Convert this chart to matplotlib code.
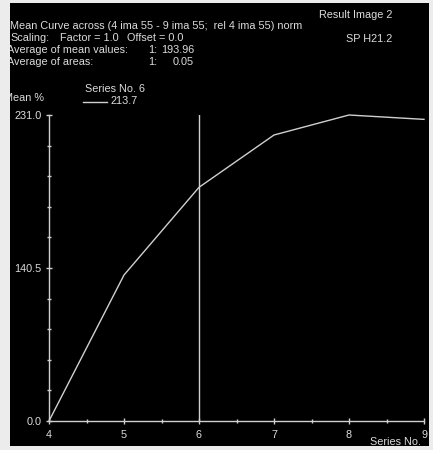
import matplotlib
matplotlib.use("Agg")
import matplotlib.pyplot as plt
from matplotlib.patches import Rectangle
from matplotlib.lines import Line2D

# ---- data ----
series_no = [4, 5, 6, 7, 8, 9]
mean_pct = [0.0, 110.2, 176.4, 215.9, 231.0, 227.7]
cursor_series = 6
y_ticks = [0.0, 115.5, 231.0]
y_tick_labels = ["0.0", "140.5", "231.0"]
x_ticks = [4, 5, 6, 7, 8, 9]
x_minor = [4.5, 5.5, 6.5, 7.5, 8.5]
y_minor = [23.1, 46.2, 69.3, 92.4, 138.6, 161.7, 184.8, 207.9]

W, H = 433, 450
FG = "#dcdcdc"
LINE = "#d0d0d0"
FONT = ["Liberation Sans", "DejaVu Sans"]
FS = 7.8

fig = plt.figure(figsize=(W / 100, H / 100), dpi=100)
fig.patch.set_facecolor("#ececec")


def fx(x):
    return x / W


def fy(y):
    return 1 - y / H


# black panel
fig.add_artist(Rectangle((fx(10), fy(446)), fx(429) - fx(10), fy(3) - fy(446),
                         transform=fig.transFigure, facecolor="black",
                         edgecolor="none", zorder=-5))
# border strip on the left (clips text)
fig.add_artist(Rectangle((0, 0), fx(10), 1, transform=fig.transFigure,
                         facecolor="#ececec", edgecolor="none", zorder=20))

ax = fig.add_axes([fx(49), fy(421), fx(424) - fx(49), fy(115) - fy(421)])
ax.set_facecolor("none")
ax.plot(series_no, mean_pct, color=LINE, lw=1.0, clip_on=False)
ax.axvline(cursor_series, color=LINE, lw=1.0)
ax.set_xlim(4, 9)
ax.set_ylim(0, 231)
for s in ["top", "right"]:
    ax.spines[s].set_visible(False)
for s in ["left", "bottom"]:
    ax.spines[s].set_color(LINE)
    ax.spines[s].set_linewidth(1.0)
ax.set_xticks(x_ticks)
ax.set_xticklabels([str(v) for v in x_ticks])
ax.set_xticks(x_minor, minor=True)
ax.set_yticks(y_ticks)
ax.set_yticklabels(y_tick_labels)
ax.set_yticks(y_minor, minor=True)
ax.tick_params(which="major", direction="inout", length=5, width=1.0,
               colors=LINE, labelcolor=FG, labelsize=FS)
ax.tick_params(which="minor", direction="inout", length=2.5, width=1.0,
               colors=LINE)
ax.tick_params(axis="x", which="major", pad=4)
ax.tick_params(axis="y", which="major", pad=3)
for lab in ax.get_xticklabels() + ax.get_yticklabels():
    lab.set_family(FONT)


def t(x, y, s, ha="left"):
    fig.text(fx(x), fy(y), s, ha=ha, va="center", color=FG, fontsize=FS,
             family=FONT, zorder=5)


t(392, 15, "Result Image 2", ha="right")
t(392, 39, "SP H21.2", ha="right")
t(10, 26, "Mean Curve across (4 ima 55 - 9 ima 55;  rel 4 ima 55) norm")
t(10, 38, "Scaling:")
t(60, 38, "Factor = 1.0")
t(127, 38, "Offset = 0.0")
t(7, 50, "Average of mean values:")
t(148, 50, "1:")
t(194, 50, "193.96", ha="right")
t(7, 62, "Average of areas:")
t(148, 62, "1:")
t(194, 62, "0.05", ha="right")

t(4, 98, "Mean %")
t(85, 89, "Series No. 6")
fig.add_artist(Line2D([fx(83), fx(107)], [fy(102), fy(102)],
                      transform=fig.transFigure, color=LINE, lw=1.0))
t(110, 101, "213.7")
t(421, 442, "Series No.", ha="right")

fig.savefig("out.png", dpi=100, facecolor=fig.get_facecolor())
